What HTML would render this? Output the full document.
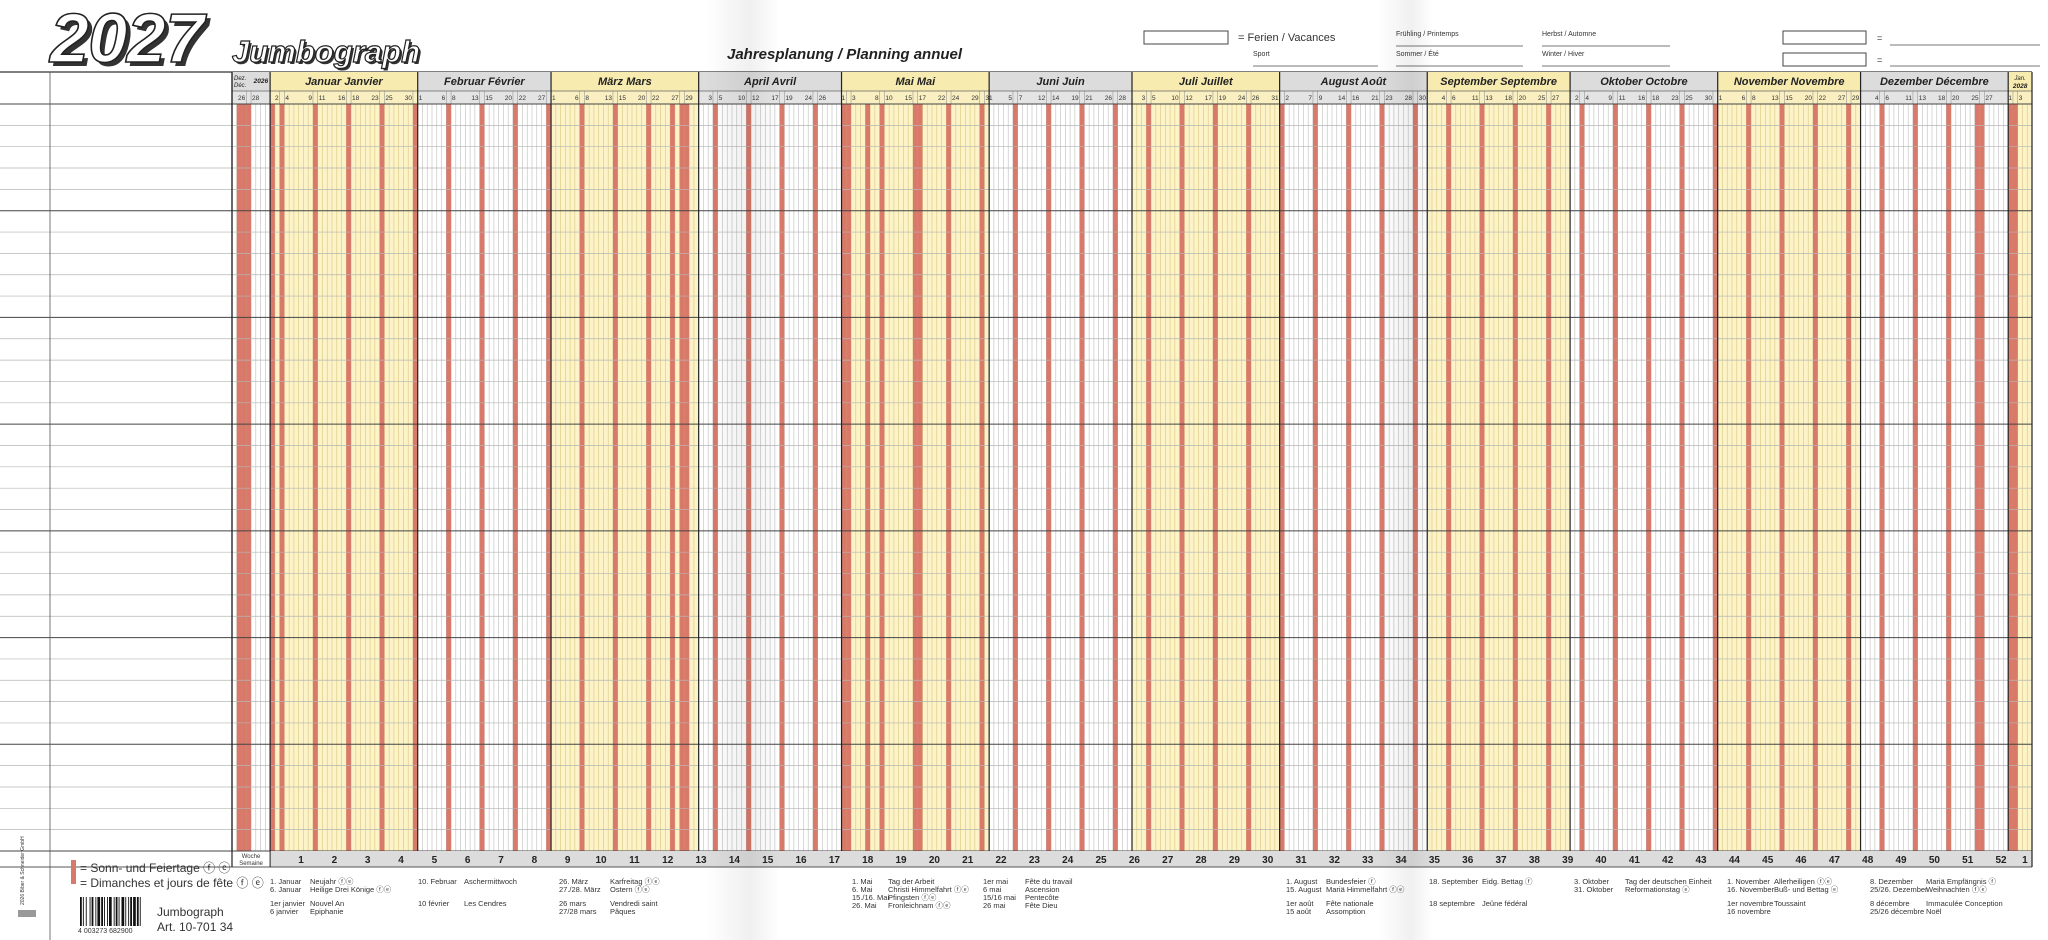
<!DOCTYPE html>
<html><head><meta charset="utf-8">
<style>
html,body{margin:0;padding:0;background:#fff;}
svg{display:block;font-family:"Liberation Sans",sans-serif;}
</style></head>
<body>
<svg id="chart" width="2048" height="940" viewBox="0 0 2048 940">
<defs>
<linearGradient id="fold1" x1="0" x2="1" y1="0" y2="0">
<stop offset="0" stop-color="#000" stop-opacity="0"/>
<stop offset="0.6" stop-color="#000" stop-opacity="0.06"/>
<stop offset="1" stop-color="#000" stop-opacity="0"/>
</linearGradient>
</defs>
<g id="title">
<text x="54" y="66" font-size="70" font-weight="bold" font-style="italic" fill="#333" textLength="154">2027</text>
<text x="50" y="62" font-size="70" font-weight="bold" font-style="italic" fill="#fff" stroke="#222" stroke-width="1.6" textLength="154">2027</text>
<text x="234" y="64" font-size="31" font-weight="bold" font-style="italic" fill="#333" textLength="188">Jumbograph</text>
<text x="232" y="62" font-size="31" font-weight="bold" font-style="italic" fill="#fff" stroke="#222" stroke-width="1.2" textLength="188">Jumbograph</text>
<text x="727" y="59" font-size="15" font-weight="bold" font-style="italic" fill="#222">Jahresplanung / Planning annuel</text>
</g>
<g id="topright" font-size="10" fill="#333">
<rect x="1144" y="31" width="84" height="13" fill="#fff" stroke="#444"/>
<text x="1238" y="41" font-size="11">=  Ferien / Vacances</text>
<text x="1253" y="56" font-size="7">Sport</text>
<line x1="1253" y1="66" x2="1378" y2="66" stroke="#777"/>
<text x="1396" y="36" font-size="7">Frühling / Printemps</text>
<line x1="1396" y1="46" x2="1523" y2="46" stroke="#777"/>
<text x="1396" y="56" font-size="7">Sommer / Été</text>
<line x1="1396" y1="66" x2="1523" y2="66" stroke="#777"/>
<text x="1542" y="36" font-size="7">Herbst / Automne</text>
<line x1="1542" y1="46" x2="1670" y2="46" stroke="#777"/>
<text x="1542" y="56" font-size="7">Winter / Hiver</text>
<line x1="1542" y1="66" x2="1670" y2="66" stroke="#777"/>
<rect x="1783" y="31" width="83" height="13" fill="#fff" stroke="#444"/>
<text x="1877" y="41" font-size="9">=</text>
<line x1="1890" y1="45" x2="2040" y2="45" stroke="#777"/>
<rect x="1783" y="53" width="83" height="13" fill="#fff" stroke="#444"/>
<text x="1877" y="63" font-size="9">=</text>
<line x1="1890" y1="66" x2="2040" y2="66" stroke="#777"/>
</g>
<g id="grid"></g>
<g id="footer" fill="#333">
<text transform="translate(24,905) rotate(-90)" font-size="5">2026 Biber &amp; Schneider GmbH</text>
<rect x="18" y="910" width="18" height="7" fill="#999"/>
<rect x="71" y="860" width="5" height="24" fill="#d9796a"/>
<text x="80" y="872" font-size="12">= Sonn- und Feiertage ⓕ ⓔ</text>
<text x="80" y="887" font-size="12">= Dimanches et jours de fête ⓕ ⓔ</text>
<g id="barcode"></g>
<text x="78" y="933" font-size="7">4 003273 682900</text>
<text x="157" y="916" font-size="12">Jumbograph</text>
<text x="157" y="931" font-size="12">Art. 10-701 34</text>
</g>
<g id="holtext" font-size="7.5" fill="#333"></g>
<rect x="705" y="0" width="75" height="940" fill="url(#fold1)"/>
<rect x="1378" y="0" width="55" height="940" fill="url(#fold1)"/>
</svg>
<script>
// ---- data ----
const monthsDe = ["Januar","Februar","März","April","Mai","Juni","Juli","August","September","Oktober","November","Dezember"];
const monthsFr = ["Janvier","Février","Mars","Avril","Mai","Juin","Juillet","Août","Septembre","Octobre","Novembre","Décembre"];
const holidays = ["2026-12-25","2026-12-26","2027-01-01","2027-03-26","2027-03-29","2027-05-01","2027-05-06","2027-05-17","2027-12-25","2027-12-26","2028-01-01"];
const totalDays = 378;
const noteCols = [
 [270,["1. Januar","6. Januar","","1er janvier","6 janvier"]],
 [310,["Neujahr ⓕⓔ","Heilige Drei Könige ⓕⓔ","","Nouvel An","Epiphanie"]],
 [418,["10. Februar","","10 février"]],
 [464,["Aschermittwoch","","Les Cendres"]],
 [559,["26. März","27./28. März","","26 mars","27/28 mars"]],
 [610,["Karfreitag ⓕⓔ","Ostern ⓕⓔ","","Vendredi saint","Pâques"]],
 [852,["1. Mai","6. Mai","15./16. Mai","26. Mai"]],
 [888,["Tag der Arbeit","Christi Himmelfahrt ⓕⓔ","Pfingsten ⓕⓔ","Fronleichnam ⓕⓔ"]],
 [983,["1er mai","6 mai","15/16 mai","26 mai"]],
 [1025,["Fête du travail","Ascension","Pentecôte","Fête Dieu"]],
 [1286,["1. August","15. August","","1er août","15 août"]],
 [1326,["Bundesfeier ⓕ","Mariä Himmelfahrt ⓕⓔ","","Fête nationale","Assomption"]],
 [1429,["18. September","","18 septembre"]],
 [1482,["Eidg. Bettag ⓕ","","Jeûne fédéral"]],
 [1574,["3. Oktober","31. Oktober"]],
 [1625,["Tag der deutschen Einheit","Reformationstag ⓔ"]],
 [1727,["1. November","16. November","","1er novembre","16 novembre"]],
 [1774,["Allerheiligen ⓕⓔ","Buß- und Bettag ⓔ","","Toussaint"]],
 [1870,["8. Dezember","25/26. Dezember","","8 décembre","25/26 décembre"]],
 [1926,["Mariä Empfängnis ⓕ","Weihnachten ⓕⓔ","","Immaculée Conception","Noël"]]
];
// ---- layout ----
const X0=232, X1=2032, DW=(X1-X0)/totalDays;
const yHead=72, yNum=91, yBody=104, yWeek=851, yEnd=867;
const NS="http://www.w3.org/2000/svg";
const grid=document.getElementById('grid');
function mk(tag,attrs,parent){const e=document.createElementNS(NS,tag);for(const k in attrs)e.setAttribute(k,attrs[k]);(parent||grid).appendChild(e);return e;}
function xd(i){return X0+i*DW;}
function pad(n){return (n<10?"0":"")+n;}
const days=[];
for(let i=0;i<totalDays;i++){const d=new Date(2026,11,24+i);days.push(d);}
const isRed=d=>d.getDay()===0||holidays.includes(d.getFullYear()+"-"+pad(d.getMonth()+1)+"-"+pad(d.getDate()));
const segs=[];
days.forEach((d,i)=>{const key=d.getFullYear()*12+d.getMonth();if(!segs.length||segs[segs.length-1].key!==key)segs.push({key,m:d.getMonth(),y:d.getFullYear(),s:i,e:i+1});else segs[segs.length-1].e=i+1;});
const rows=35, RH=(yWeek-yBody)/rows;
mk('line',{x1:0,y1:yHead,x2:X1,y2:yHead,stroke:'#333','stroke-width':1.2,});
segs.forEach((sg,k)=>{
 const yellow = (sg.y===2027 && sg.m%2===0) || sg.y===2028;
 const x=xd(sg.s), w=(sg.e-sg.s)*DW;
 const g=mk('g',{});
 
 
 mk('rect',{x,y:yHead,width:w,height:yNum-yHead,fill:yellow?'#f7ebb0':'#dcdcdc'},g);
 mk('rect',{x,y:yNum,width:w,height:yBody-yNum,fill:yellow?'#f9efc0':'#e4e4e4'},g);
 mk('rect',{x,y:yBody,width:w,height:yWeek-yBody,fill:yellow?'#fcf3c8':'#ffffff'},g);
 const cx=x+w/2;
 if(sg.y===2027){
  const t=mk('text',{x:cx,y:yHead+13,'text-anchor':'middle','font-size':11,'font-weight':'bold','font-style':'italic',fill:'#222'},g);
  t.textContent=monthsDe[sg.m]+"   "+monthsFr[sg.m];
 } else if(sg.y===2026){
  const a=mk('text',{x:x+2,y:yHead+8,'font-size':6,'font-style':'italic',fill:'#222'},g);a.textContent="Dez.";
  const b=mk('text',{x:x+2,y:yHead+15,'font-size':6,'font-style':'italic',fill:'#222'},g);b.textContent="Déc.";
  const c=mk('text',{x:x+w-2,y:yHead+11,'text-anchor':'end','font-size':6.5,'font-weight':'bold','font-style':'italic',fill:'#222'},g);c.textContent="2026";
 } else {
  const a=mk('text',{x:cx,y:yHead+8,'text-anchor':'middle','font-size':6,'font-style':'italic',fill:'#222'},g);a.textContent="Jan.";
  const b=mk('text',{x:cx,y:yHead+16,'text-anchor':'middle','font-size':6.5,'font-weight':'bold','font-style':'italic',fill:'#222'},g);b.textContent="2028";
 }
 for(let i=sg.s+1;i<sg.e;i++){
  mk('line',{x1:xd(i),y1:yBody,x2:xd(i),y2:yWeek,stroke:yellow?'#d9c77e':'#bdbdbd','stroke-width':0.6},g);
 }
});
days.forEach((d,i)=>{
 if(isRed(d)){
  const r=mk('rect',{x:xd(i),y:yBody,width:DW,height:yWeek-yBody,fill:'#d9796a'});
  
  
 }
});
days.forEach((d,i)=>{
 const dw=d.getDay();
 if(dw===6){const t=mk('text',{x:xd(i+1)-1,y:yNum+9,'text-anchor':'end','font-size':6.5,fill:'#333'});t.textContent=d.getDate();
  mk('line',{x1:xd(i+1),y1:yNum,x2:xd(i+1),y2:yBody,stroke:'#999','stroke-width':0.6});}
 if(dw===1){const t=mk('text',{x:xd(i)+1,y:yNum+9,'font-size':6.5,fill:'#333'});t.textContent=d.getDate();
  mk('line',{x1:xd(i),y1:yNum,x2:xd(i),y2:yBody,stroke:'#999','stroke-width':0.6});}
});
for(let k=0;k<=rows;k++){
 const y=yBody+k*RH, dark=k%5===0;
 const l=mk('line',{x1:0,y1:y,x2:X1,y2:y,stroke:dark?'#444':'#b5b5b5','stroke-width':dark?1:0.7});
 
 
}
mk('line',{x1:X0,y1:yNum,x2:X1,y2:yNum,stroke:'#666','stroke-width':0.7});
mk('rect',{x:xd(8),y:yWeek,width:X1-xd(8),height:yEnd-yWeek,fill:'#dcdcdc'});
let wl=mk('text',{x:xd(4),y:yWeek+7,'text-anchor':'middle','font-size':6,fill:'#333'});wl.textContent="Woche";
wl=mk('text',{x:xd(4),y:yWeek+14,'text-anchor':'middle','font-size':6,fill:'#333'});wl.textContent="Semaine";
let wn=1;
days.forEach((d,i)=>{
 if(d.getDay()===1 && d.getFullYear()>=2027){
  const e=Math.min(i+7,totalDays);
  const t=mk('text',{x:(xd(i)+xd(e))/2,y:yWeek+12,'text-anchor':'middle','font-size':10,'font-weight':'bold',fill:'#222'});
  t.textContent = d.getFullYear()===2028?1:wn;
  
  
  wn++;
 }
});
mk('line',{x1:0,y1:yEnd,x2:X1,y2:yEnd,stroke:'#555','stroke-width':1});
segs.forEach(sg=>{mk('line',{x1:xd(sg.s),y1:yHead,x2:xd(sg.s),y2:yWeek,stroke:'#222','stroke-width':1.2});});
mk('line',{x1:X1,y1:yHead,x2:X1,y2:yEnd,stroke:'#222','stroke-width':1.2});
mk('line',{x1:X0,y1:yHead,x2:X0,y2:yEnd,stroke:'#222','stroke-width':1.2});
mk('line',{x1:xd(8),y1:yWeek,x2:xd(8),y2:yEnd,stroke:'#222','stroke-width':1});
mk('line',{x1:50,y1:yHead,x2:50,y2:940,stroke:'#555','stroke-width':0.8});
const bc=document.getElementById('barcode');
const bars=[2,1,1,2,1,3,1,1,2,2,1,1,3,1,2,1,1,2,1,1,3,2,1,1,2,1,1,2,3,1,1,2,1,1,2,1,3,1,2,1,1,2];
let bx=80;
bars.forEach((w,i)=>{if(i%2===0)mk('rect',{x:bx,y:897,width:w*0.9,height:29,fill:'#111'},bc);bx+=w*0.9+0.1;});
const ht=document.getElementById('holtext');
noteCols.forEach(([x,lines])=>{
 const gap=lines.indexOf("");
 lines.forEach((s,j)=>{
  if(!s)return;
  const y = gap<0 ? 884+j*8 : (j<gap ? 884+j*8 : 906+(j-gap-1)*8);
  const t=mk('text',{x,y},ht);
  t.textContent=s;
  
  
 });
});
</script>
</body></html>
